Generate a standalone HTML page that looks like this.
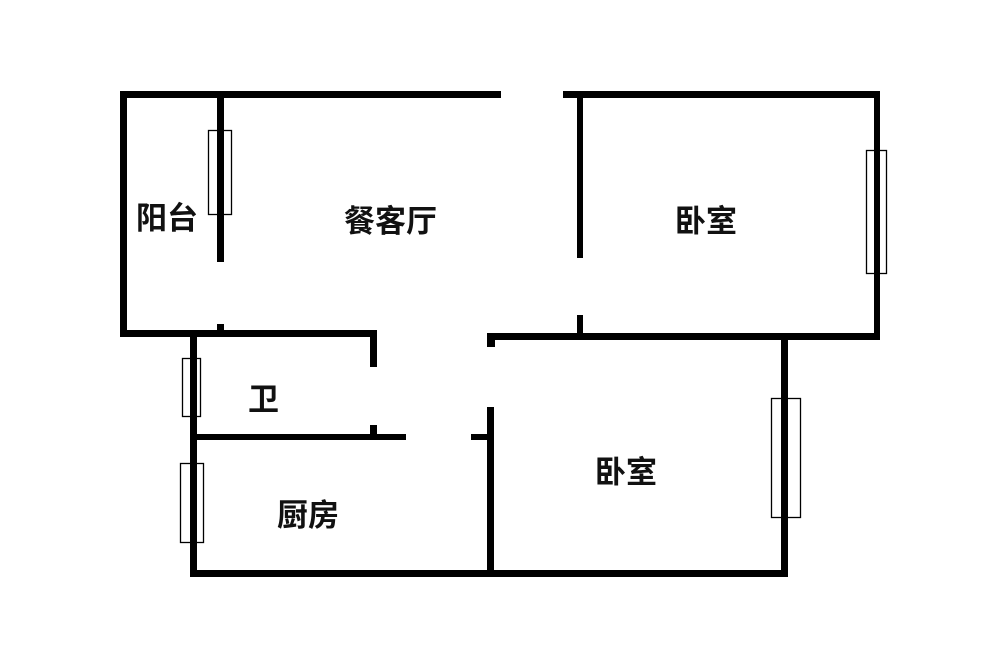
<!DOCTYPE html>
<html><head><meta charset="utf-8"><style>
html,body{margin:0;padding:0;background:#fff;}
svg{display:block;}
text{font-family:"Liberation Sans","Noto Sans CJK SC",sans-serif;font-weight:bold;font-size:31px;fill:#111;}
</style></head><body>
<svg width="1000" height="662" viewBox="0 0 1000 662">
<g fill="#000">
<rect x="120" y="91" width="381" height="7"/>
<rect x="563" y="91" width="317" height="7"/>
<rect x="120" y="91" width="7" height="246"/>
<rect x="217" y="91" width="7" height="171"/>
<rect x="217" y="324" width="7" height="12"/>
<rect x="120" y="330" width="257" height="7"/>
<rect x="370" y="330" width="7" height="37"/>
<rect x="190" y="330" width="7" height="247"/>
<rect x="190" y="434" width="216" height="6"/>
<rect x="370" y="425" width="7" height="15"/>
<rect x="471" y="434" width="20" height="6"/>
<rect x="487" y="407" width="7" height="170"/>
<rect x="190" y="570" width="598" height="7"/>
<rect x="487" y="333" width="393" height="7"/>
<rect x="487" y="333" width="8" height="14"/>
<rect x="577" y="91" width="6" height="167"/>
<rect x="577" y="315" width="6" height="22"/>
<rect x="874" y="91" width="6" height="249"/>
<rect x="781" y="336" width="7" height="241"/>
</g>
<g fill="#fff" stroke="#000" stroke-width="1.3">
<rect x="208.5" y="130.5" width="23" height="84"/>
<rect x="182.5" y="358.5" width="18" height="58"/>
<rect x="180.5" y="463.5" width="23" height="79"/>
<rect x="866.5" y="150.5" width="20" height="123"/>
<rect x="771.5" y="398.5" width="29" height="119"/>
</g>
<g fill="#000">
<rect x="217" y="130" width="7" height="85"/>
<rect x="190" y="358" width="7" height="59"/>
<rect x="190" y="463" width="7" height="80"/>
<rect x="874" y="150" width="6" height="124"/>
<rect x="781" y="398" width="7" height="120"/>
</g>
<text x="136" y="229">阳台</text>
<text x="344" y="232">餐客厅</text>
<text x="675" y="232">卧室</text>
<text x="248" y="410" font-size="32">卫</text>
<text x="277" y="526">厨房</text>
<text x="595" y="483">卧室</text>
</svg>
</body></html>
